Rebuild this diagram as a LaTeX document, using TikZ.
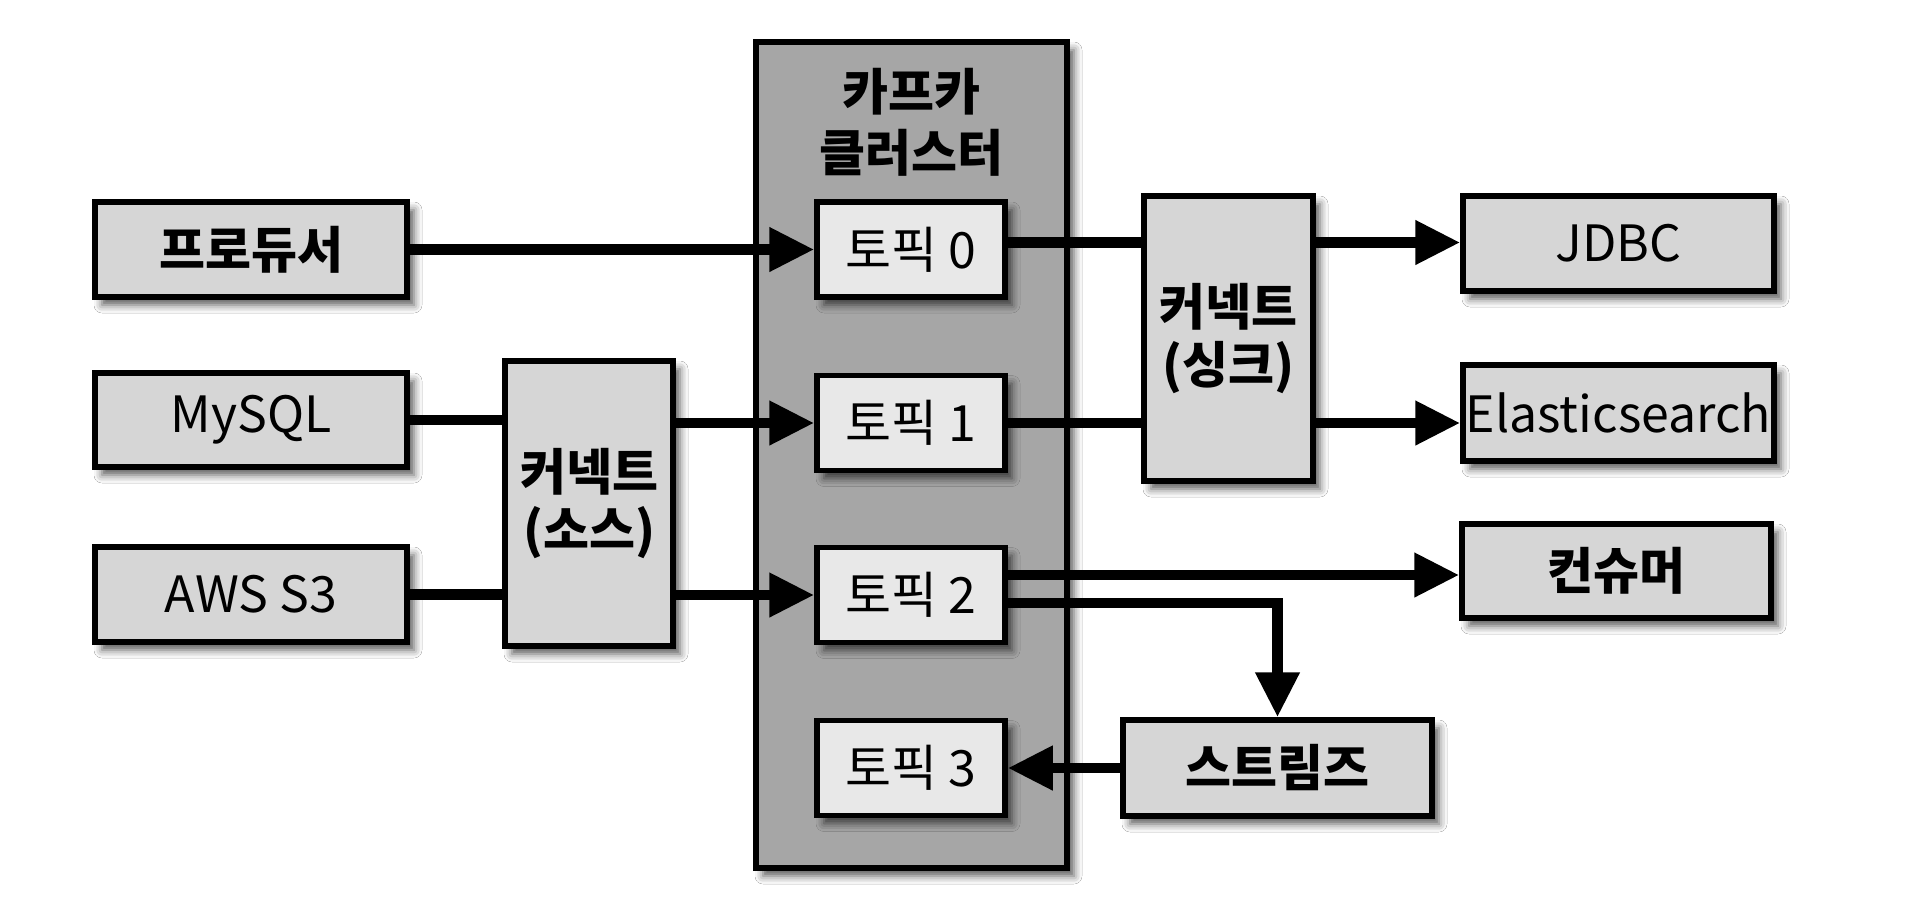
\documentclass[tikz,border=0pt]{standalone}
\usepackage{fontspec}
\setmainfont{Noto Sans CJK KR}
\usetikzlibrary{arrows.meta,shadows.blur,calc}
\definecolor{kafkafill}{HTML}{A6A6A6}
\definecolor{boxfill}{HTML}{D6D6D6}
\definecolor{topicfill}{HTML}{E8E8E8}
\begin{document}
\begin{tikzpicture}[x=1pt,y=-1pt,
  shadowed/.style={blur shadow={shadow xshift=7pt,shadow yshift=-8pt,shadow blur radius=8pt,shadow opacity=65}},
  box/.style={draw=black,line width=5.5pt,fill=boxfill,rectangle,inner sep=0pt,shadowed,
    font=\fontsize{50}{58}\selectfont,align=center},
  boldbox/.style={box,font=\fontsize{50}{58}\selectfont\bfseries},
  topic/.style={box,fill=topicfill,minimum width=188pt,minimum height=95pt},
  flow/.style={line width=10.5pt,-{Triangle[length=45pt,width=42pt]}},
  plain/.style={line width=10.5pt}]
\useasboundingbox (0,0) rectangle (1918,922);
\fill[white] (0,0) rectangle (1918,922);
% kafka cluster
\node[draw=black,line width=5.5pt,fill=kafkafill,rectangle,inner sep=0pt,shadowed,
  minimum width=311pt,minimum height=826pt] (kafka) at (911.5,455) {};
\node[font=\fontsize{50}{61}\selectfont\bfseries,align=center] (title) at (911,122) {카프카\\클러스터};
% topics
\node[topic] (t0) at (911,249.5) {토픽 0};
\node[topic] (t1) at (911,423) {토픽 1};
\node[topic] (t2) at (911,595) {토픽 2};
\node[topic] (t3) at (911,768) {토픽 3};
% sources
\node[boldbox,minimum width=312pt,minimum height=95pt] (prod) at (251,249.5) {프로듀서};
\node[box,minimum width=312pt,minimum height=94pt] (mysql) at (251,420) {MySQL};
\node[box,minimum width=312pt,minimum height=95pt] (aws) at (251,594.5) {AWS S3};
\node[boldbox,minimum width=168pt,minimum height=285pt] (src) at (589,503.5) {커넥트\\(소스)};
% sinks
\node[boldbox,minimum width=169pt,minimum height=285pt] (sink) at (1228.5,338.5) {커넥트\\(싱크)};
\node[box,minimum width=311pt,minimum height=95pt] (jdbc) at (1618.5,243.5) {JDBC};
\node[box,minimum width=311pt,minimum height=96pt] (es) at (1618.5,413) {Elasticsearch};
\node[boldbox,minimum width=309pt,minimum height=94pt] (cons) at (1616.5,571) {컨슈머};
\node[boldbox,minimum width=309pt,minimum height=96pt] (streams) at (1277.5,768) {스트림즈};
% helper coordinates
\coordinate (a0) at ($(t0.east)+(0,-7)$);
\coordinate (a2c) at ($(t2.east)+(0,-20)$);
\coordinate (a2s) at ($(t2.east)+(0,8)$);
% connectors
\draw[flow] (prod.east) -- (t0.west);
\draw[plain] (mysql.east) -- (mysql.east -| src.west);
\draw[flow] (src.east |- t1.west) -- (t1.west);
\draw[plain] (aws.east) -- (aws.east -| src.west);
\draw[flow] (src.east |- t2.west) -- (t2.west);
\draw[plain] (a0) -- (a0 -| sink.west);
\draw[flow] (a0 -| sink.east) -- (a0 -| jdbc.west);
\draw[plain] (t1.east) -- (t1.east -| sink.west);
\draw[flow] (t1.east -| sink.east) -- (t1.east -| es.west);
\draw[flow] (a2c) -- (a2c -| cons.west);
\draw[flow] (a2s) -| (streams.north);
\draw[flow] (streams.west) -- (t3.east);
\end{tikzpicture}
\end{document}
